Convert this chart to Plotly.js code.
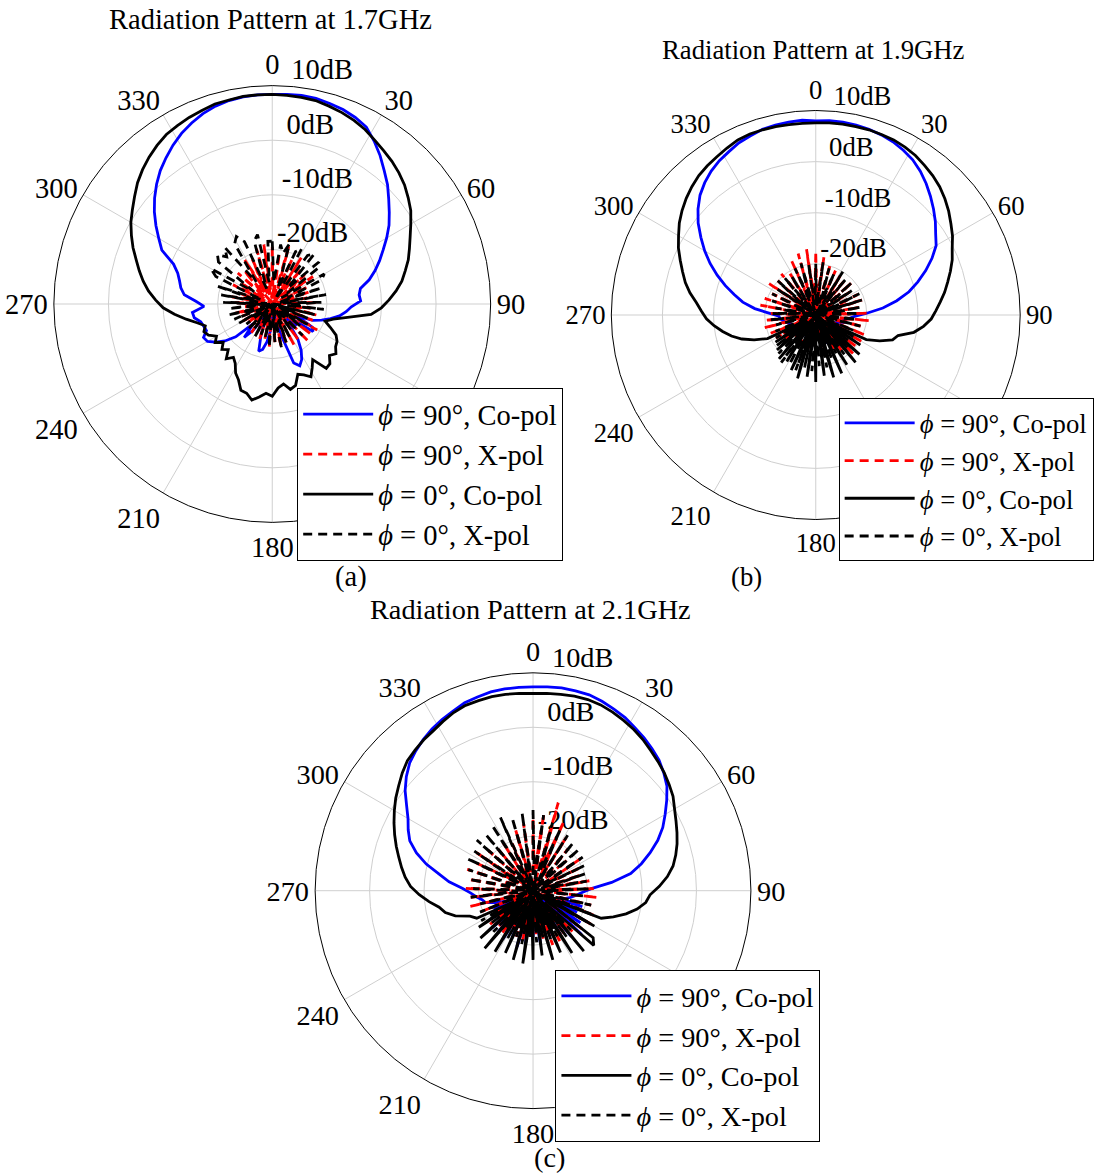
<!DOCTYPE html>
<html>
<head>
<meta charset="utf-8">
<script src="https://cdn.plot.ly/plotly-3.0.1.min.js"></script>
<style>
  html, body { margin: 0; padding: 0; background: #fff; }
  #chart { width: 1094px; height: 1173px; }
</style>
</head>
<body>
<div id="chart"></div>
<script>
// ---- angles (degrees, clockwise from top), 4° step ----
const THETA = [0,4,8,12,16,20,24,28,32,36,40,44,48,52,56,60,64,68,72,76,
  80,84,88,92,96,100,104,108,112,116,120,124,128,132,136,140,144,148,152,156,
  160,164,168,172,176,180,184,188,192,196,200,204,208,212,216,220,224,228,232,236,
  240,244,248,252,256,260,264,268,272,276,280,284,288,292,296,300,304,308,312,316,
  320,324,328,332,336,340,344,348,352,356];

const ANGLE_TICKS = [0,30,60,90,120,150,180,210,240,270,300,330];
// 120 and 150 sit under the legend box in the original, so they are not visible
const ANGLE_LABELS = ['0','30','60','90','','','180','210','240','270','300','330'];
const RADIAL_TICKS = [-20,-10,0,10];
const RADIAL_LABELS = ['-20dB','-10dB','0dB','10dB'];
const RADIAL_LABEL_ANGLE = 5;

const SERIES_NAMES = ['<i>ϕ</i> = 90°, Co-pol','<i>ϕ</i> = 90°, X-pol','<i>ϕ</i> = 0°, Co-pol','<i>ϕ</i> = 0°, X-pol'];
const TITLES = ['Radiation Pattern at 1.7GHz','Radiation Pattern at 1.9GHz','Radiation Pattern at 2.1GHz'];
const CAPTIONS = ['(a)','(b)','(c)'];

// ---- (a) 1.7 GHz ----
const BLUE_A = [8.4,8.5,8.6,8.5,8.2,7.9,7.4,6.7,5.2,3.6,
  1.9,0.4,-1.3,-2.8,-4.2,-5.8,-7.4,-8.8,-10.2,-11.7,
  -13.6,-14.0,-13.8,-15.5,-16.4,-17.5,-19.0,-20.5,-22.0,-25.0,
  -21.5,-21.0,-26.0,-24.0,-28.0,-25.0,-22.0,-20.0,-18.5,-17.6,
  -18.5,-24.0,-27.0,-29.0,-26.0,-28.0,-25.0,-23.0,-21.5,-21.0,
  -24.0,-27.0,-25.0,-28.0,-24.0,-22.0,-25.0,-21.0,-19.0,-17.5,
  -16.3,-16.0,-17.0,-16.8,-16.5,-15.5,-15.3,-17.5,-16.0,-13.8,
  -13.0,-12.5,-11.8,-10.5,-7.5,-6.0,-4.3,-2.6,-1.0,0.5,
  1.9,3.1,4.3,5.4,6.3,7.1,7.7,8.1,8.3,8.4];
const RED_A = [-19.5,-28,-20.5,-29,-19.0,-27,-21.0,-30,-20.0,-28,
  -21.5,-29,-22.0,-27,-21.0,-30,-23.0,-28,-22.5,-29,
  -23.5,-28,-22.0,-30,-23.0,-27,-21.5,-29,-22.0,-28,
  -20.5,-27,-21.0,-29,-20.5,-28,-22.0,-30,-21.5,-28,
  -22.5,-29,-22.0,-27,-23.0,-30,-22.0,-28,-23.5,-29,
  -23.0,-28,-24.5,-30,-23.5,-27,-24.0,-29,-24.5,-28,
  -23.5,-30,-24.0,-27,-23.0,-29,-24.5,-28,-23.0,-30,
  -22.5,-28,-23.5,-29,-22.0,-27,-23.0,-30,-21.5,-28,
  -22.0,-29,-20.5,-27,-21.0,-30,-19.5,-28,-19.0,-29];
const BLACK_A = [8.4,8.3,8.2,8.1,7.7,7.3,6.8,6.2,5.4,4.7,
  4.1,3.4,2.6,1.6,0.6,-0.7,-1.9,-2.9,-3.8,-4.9,
  -5.9,-7.2,-8.6,-10.0,-11.8,-16.0,-18.5,-19.8,-18.5,-17.0,
  -16.3,-16.0,-15.2,-15.9,-14.8,-14.6,-17.4,-16.2,-14.9,-15.8,
  -16.3,-14.5,-14.0,-15.2,-14.6,-13.1,-13.6,-12.8,-12.0,-13.0,
  -13.2,-14.8,-15.7,-17.2,-17.9,-16.9,-18.4,-17.6,-18.6,-17.4,
  -18.2,-17.0,-16.5,-17.1,-15.8,-14.0,-12.0,-10.0,-8.6,-7.2,
  -6.0,-4.9,-3.8,-2.5,-1.3,-0.1,0.9,2.0,3.2,4.2,
  5.1,5.9,6.6,7.0,7.4,7.7,8.1,8.2,8.4,8.4];
const BLACKX_A = [-18.5,-26,-19.0,-20.5,-18.5,-27,-19.5,-18.5,-29,-19.0,
  -18.0,-26,-18.5,-19.5,-28,-19.0,-20.0,-27,-20.5,-29,
  -20.0,-28,-21.0,-27,-20.5,-30,-22.0,-28,-23.0,-29,
  -22.5,-27,-23.5,-30,-22.0,-28,-24.0,-29,-23.0,-27,
  -22.5,-30,-21.5,-28,-23.0,-29,-22.0,-27,-23.5,-30,
  -24.0,-28,-23.0,-29,-24.5,-27,-23.5,-30,-24.0,-28,
  -23.0,-29,-22.5,-27,-21.5,-30,-22.0,-28,-21.0,-29,
  -20.5,-27,-19.5,-28,-18.5,-17.0,-26,-17.5,-16.5,-18.0,
  -16.5,-25,-17.0,-16.0,-17.5,-27,-18.0,-17.0,-26,-18.5];

// ---- (b) 1.9 GHz ----
const BLUE_B = [8.0,8.1,8.1,8.0,7.8,7.5,7.1,6.5,5.8,4.8,
  3.6,2.3,1.0,-0.3,-1.7,-2.8,-4.7,-6.8,-9.0,-11.2,
  -13.9,-16.8,-20.0,-22.4,-23.5,-24.5,-24.0,-25.5,-26.0,-24.5,
  -27.0,-25.0,-28.0,-26.0,-24.5,-28.5,-26.0,-29.0,-25.5,-27.5,
  -24.0,-28.0,-26.5,-29.0,-25.0,-27.0,-24.5,-28.5,-26.0,-24.0,
  -27.5,-25.0,-29.0,-26.0,-24.0,-27.0,-25.5,-28.0,-25.0,-26.5,
  -24.5,-26.0,-24.0,-25.0,-24.0,-23.5,-23.0,-22.8,-21.0,-18.0,
  -15.5,-13.6,-11.4,-9.2,-7.0,-4.9,-2.9,-0.8,1.0,2.6,
  3.8,4.8,5.6,6.2,6.9,7.3,7.8,8.0,8.1,8.2];
const RED_B = [-18.0,-27,-18.5,-29,-19.5,-28,-20.5,-30,-21.0,-27,
  -21.5,-29,-20.5,-28,-22.0,-30,-21.0,-27,-20.5,-29,
  -21.5,-28,-20.0,-30,-19.5,-27,-20.5,-29,-19.5,-28,
  -19.5,-30,-20.0,-27,-19.0,-29,-21.0,-28,-22.5,-30,
  -24.0,-27,-23.5,-29,-25.0,-28,-24.5,-30,-23.0,-27,
  -24.5,-29,-23.5,-28,-25.0,-30,-24.0,-27,-22.5,-29,
  -21.0,-28,-20.5,-30,-19.5,-27,-20.0,-29,-21.0,-28,
  -19.0,-30,-19.5,-27,-20.5,-29,-19.0,-28,-20.0,-30,
  -19.5,-27,-20.5,-29,-18.5,-28,-17.5,-30,-17.0,-27];
const BLACK_B = [7.6,7.7,7.7,7.7,7.7,7.6,7.5,7.2,6.8,6.2,
  5.6,4.9,4.0,3.0,1.9,0.9,-0.3,-1.2,-2.3,-3.4,
  -4.4,-5.5,-6.5,-7.4,-8.8,-10.5,-13.4,-14.2,-16.5,-19.0,
  -27.0,-19.5,-28.5,-18.5,-26.0,-17.9,-29.0,-18.5,-27.5,-17.5,
  -28.0,-17.3,-26.5,-18.0,-29.0,-16.9,-27.0,-17.8,-28.5,-17.1,
  -26.0,-18.2,-29.0,-19.3,-27.5,-18.8,-28.0,-19.8,-26.5,-20.5,
  -28.0,-19.5,-17.0,-14.8,-13.0,-11.5,-10.0,-8.6,-7.6,-6.5,
  -5.0,-3.7,-2.6,-1.4,-0.1,1.0,2.2,3.2,4.1,4.9,
  5.6,6.1,6.5,7.0,7.5,7.7,7.7,7.7,7.6,7.6];
const BLACKX_B = [-20.0,-28,-19.5,-30,-20.5,-27,-21.0,-29,-20.0,-28,
  -21.0,-30,-20.5,-27,-21.5,-29,-20.5,-28,-20.5,-30,
  -21.0,-27,-21.5,-29,-22.0,-28,-21.0,-30,-22.0,-27,
  -21.5,-29,-22.0,-28,-21.0,-30,-20.5,-27,-21.5,-29,
  -20.5,-28,-19.5,-30,-20.0,-27,-19.0,-29,-19.5,-28,
  -18.5,-30,-19.0,-27,-18.5,-29,-19.5,-28,-20.0,-30,
  -21.0,-27,-21.5,-29,-22.0,-28,-21.0,-30,-21.5,-27,
  -22.0,-29,-21.0,-28,-20.5,-30,-21.0,-27,-20.0,-29,
  -20.5,-28,-21.0,-30,-20.0,-27,-19.5,-29,-20.0,-28];

// ---- (c) 2.1 GHz ----
const BLUE_C = [7.4,7.5,7.6,7.5,7.4,7.0,6.5,6.0,5.3,4.7,
  4.0,3.3,2.3,1.2,-0.4,-2.0,-3.5,-5.3,-7.4,-9.5,
  -11.8,-15.5,-19.3,-21.0,-22.0,-23.0,-24.0,-20.5,-27.0,-21.0,
  -28.0,-19.5,-26.0,-18.0,-29.0,-19.0,-27.0,-20.5,-28.5,-21.0,
  -26.0,-22.0,-29.0,-20.5,-27.0,-21.5,-28.0,-20.0,-26.5,-19.3,
  -28.0,-20.5,-27.0,-19.5,-29.0,-20.0,-26.0,-19.3,-28.0,-21.0,
  -27.0,-22.0,-25.0,-23.0,-21.0,-20.5,-19.5,-18.5,-17.0,-14.5,
  -12.5,-9.8,-7.5,-5.6,-4.5,-3.5,-2.0,-0.2,1.3,2.6,
  3.5,4.3,5.0,5.6,6.1,6.7,7.0,7.3,7.4,7.4];
const RED_C = [-17.0,-27,-15.5,-29,-13.2,-26,-16.0,-28,-18.5,-30,
  -20.0,-27,-21.5,-29,-19.5,-28,-20.5,-30,-21.0,-27,
  -19.5,-29,-18.4,-28,-18.1,-30,-19.0,-27,-18.0,-29,
  -17.8,-28,-18.5,-30,-19.5,-27,-20.0,-29,-19.0,-28,
  -19.4,-30,-21.0,-27,-22.0,-29,-21.5,-28,-20.5,-30,
  -21.0,-27,-22.0,-29,-20.5,-28,-21.0,-30,-20.0,-27,
  -21.5,-29,-19.5,-28,-18.1,-30,-18.5,-27,-17.6,-29,
  -18.0,-28,-17.3,-30,-18.5,-27,-17.5,-29,-19.0,-28,
  -20.0,-30,-19.5,-27,-20.5,-29,-18.5,-28,-17.5,-30];
const BLACK_C = [6.2,6.3,6.4,6.5,6.5,6.3,5.9,5.4,4.9,4.3,
  3.6,3.0,2.4,1.7,1.0,0.0,-0.8,-1.5,-2.2,-3.0,
  -3.9,-5.2,-6.8,-8.5,-9.2,-10.6,-12.4,-14.5,-16.5,-27.0,
  -17.0,-28.0,-16.0,-15.0,-27.0,-15.5,-29.0,-16.5,-26.0,-17.6,
  -28.0,-16.8,-27.0,-18.0,-29.0,-17.3,-26.5,-16.5,-28.0,-16.8,
  -27.0,-17.5,-29.0,-16.8,-26.0,-16.2,-28.0,-17.0,-27.5,-18.0,
  -26.0,-18.5,-17.5,-15.0,-13.4,-12.5,-10.8,-9.1,-7.5,-6.4,
  -5.5,-4.6,-3.6,-2.6,-1.6,-0.6,0.4,1.3,2.3,3.2,
  3.7,4.2,4.6,5.2,5.8,6.2,6.3,6.4,6.4,6.3];
const BLACKX_C = [-15.2,-27,-16.0,-29,-17.0,-26,-17.5,-28,-18.0,-30,
  -18.5,-27,-18.6,-29,-19.0,-28,-19.5,-30,-20.0,-27,
  -20.0,-29,-19.5,-28,-20.5,-30,-19.0,-27,-18.5,-29,
  -18.2,-28,-19.0,-30,-20.0,-27,-19.5,-29,-20.5,-28,
  -20.0,-30,-21.0,-27,-20.5,-29,-21.5,-28,-20.0,-30,
  -21.0,-27,-20.0,-29,-21.5,-28,-19.5,-30,-20.0,-27,
  -19.0,-29,-19.5,-28,-20.0,-30,-18.5,-27,-19.0,-29,
  -18.0,-28,-17.5,-30,-16.5,-27,-17.0,-29,-16.1,-28,
  -16.5,-30,-15.8,-27,-15.3,-29,-16.0,-28,-15.5,-30];

const PANELS = [
  [BLUE_A, RED_A, BLACK_A, BLACKX_A],
  [BLUE_B, RED_B, BLACK_B, BLACKX_B],
  [BLUE_C, RED_C, BLACK_C, BLACKX_C]
];

// ---- styling ----
const FONT = '"Liberation Serif", "Times New Roman", serif';
const FONT_SIZES = [28.5, 26.7, 28.3];
const STYLES = [
  {color: '#0000ff', dash: 'solid'},
  {color: '#ff0000', dash: '9px,6px'},
  {color: '#000000', dash: 'solid'},
  {color: '#000000', dash: '9px,6px'}
];
const SUBPLOTS = ['polar', 'polar2', 'polar3'];
const LEGENDS = ['legend', 'legend2', 'legend3'];

const closeLoop = a => a.concat([a[0]]);
const thetaClosed = THETA.concat([360]);

const traces = [];
PANELS.forEach((series, p) => {
  // radial tick labels, placed through the polar scale
  traces.push({
    type: 'scatterpolar',
    mode: 'text',
    r: RADIAL_TICKS,
    theta: RADIAL_TICKS.map(() => RADIAL_LABEL_ANGLE),
    text: RADIAL_LABELS,
    textposition: 'top right',
    textfont: {family: FONT, size: FONT_SIZES[p], color: '#000'},
    subplot: SUBPLOTS[p],
    showlegend: false,
    cliponaxis: false,
    hoverinfo: 'skip'
  });
  series.forEach((r, s) => {
    traces.push({
      type: 'scatterpolar',
      mode: 'lines',
      r: closeLoop(r),
      theta: thetaClosed,
      subplot: SUBPLOTS[p],
      legend: LEGENDS[p],
      name: SERIES_NAMES[s],
      line: {color: STYLES[s].color, width: 2.8, dash: STYLES[s].dash},
      hoverinfo: 'skip'
    });
  });
});

function polarLayout(xd, yd, fs) {
  return {
    domain: {x: xd, y: yd},
    bgcolor: 'rgba(0,0,0,0)',
    radialaxis: {
      range: [-30, 10],
      tickvals: RADIAL_TICKS,
      showticklabels: false,
      angle: 90,
      showline: false,
      ticks: '',
      gridcolor: '#cfcfcf',
      gridwidth: 1
    },
    angularaxis: {
      rotation: 90,
      direction: 'clockwise',
      tickmode: 'array',
      tickvals: ANGLE_TICKS,
      ticktext: ANGLE_LABELS,
      showline: true,
      linecolor: '#000',
      linewidth: 1,
      gridcolor: '#cfcfcf',
      gridwidth: 1,
      ticks: '',
      tickfont: {family: FONT, size: fs, color: '#000'}
    }
  };
}

function legendLayout(x, y, fs) {
  return {
    x: x, y: y, xanchor: 'left', yanchor: 'top',
    bgcolor: '#fff', bordercolor: '#000', borderwidth: 1,
    font: {family: FONT, size: fs, color: '#000'},
    itemwidth: 70,
    tracegroupgap: 0
  };
}

const annotations = [];
const titlePos = [[0.2477, 0.983], [0.7459, 0.9574], [0.4863, 0.4808]];
const capPos = [[0.3218, 0.5081], [0.6846, 0.5081], [0.5037, 0.0134]];
TITLES.forEach((t, i) => annotations.push({
  text: t, x: titlePos[i][0], y: titlePos[i][1], xref: 'paper', yref: 'paper',
  xanchor: 'center', yanchor: 'middle', showarrow: false,
  font: {family: FONT, size: FONT_SIZES[i], color: '#000'}
}));
CAPTIONS.forEach((t, i) => annotations.push({
  text: t, x: capPos[i][0], y: capPos[i][1], xref: 'paper', yref: 'paper',
  xanchor: 'center', yanchor: 'middle', showarrow: false, borderpad: 0,
  font: {family: FONT, size: FONT_SIZES[i], color: '#000'}
}));

const layout = {
  width: 1094, height: 1173,
  margin: {l: 0, r: 0, t: 0, b: 0},
  paper_bgcolor: '#fff',
  font: {family: FONT, size: 28, color: '#000'},
  polar: polarLayout([0.04936, 0.44973], [0.55413, 0.92754], FONT_SIZES[0]),
  polar2: polarLayout([0.56033, 0.93510], [0.55669, 0.90622], FONT_SIZES[1]),
  polar3: polarLayout([0.28885, 0.68830], [0.05439, 0.42694], FONT_SIZES[2]),
  legend: legendLayout(0.2724, 0.6692, FONT_SIZES[0]),
  legend2: legendLayout(0.7687, 0.6607, FONT_SIZES[1]),
  legend3: legendLayout(0.5091, 0.1731, FONT_SIZES[2]),
  showlegend: true,
  annotations: annotations
};

Plotly.newPlot('chart', traces, layout, {displayModeBar: false, staticPlot: true});
</script>
</body>
</html>
